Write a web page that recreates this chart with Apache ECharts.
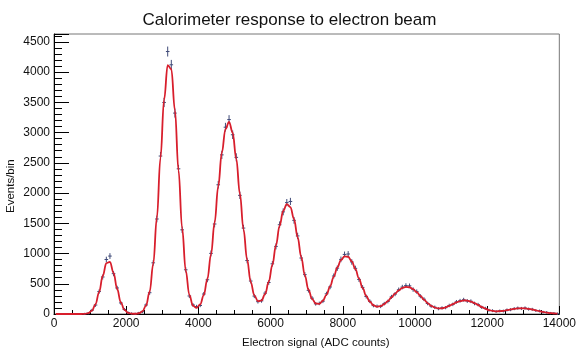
<!DOCTYPE html>
<html>
<head>
<meta charset="utf-8">
<script src="https://cdn.jsdelivr.net/npm/echarts/dist/echarts.min.js"></script>
<style>
  html, body { margin: 0; padding: 0; background: #fff; }
  #chart { width: 579px; height: 352px; }
</style>
</head>
<body>
<div id="chart"></div>
<script>
// bin centers (ADC counts), bin width 100
const binCenters = [
  50, 150, 250, 350, 450, 550, 650, 750, 850, 950,
  1050, 1150, 1250, 1350, 1450, 1550, 1650, 1750, 1850, 1950,
  2050, 2150, 2250, 2350, 2450, 2550, 2650, 2750, 2850, 2950,
  3050, 3150, 3250, 3350, 3450, 3550, 3650, 3750, 3850, 3950,
  4050, 4150, 4250, 4350, 4450, 4550, 4650, 4750, 4850, 4950,
  5050, 5150, 5250, 5350, 5450, 5550, 5650, 5750, 5850, 5950,
  6050, 6150, 6250, 6350, 6450, 6550, 6650, 6750, 6850, 6950,
  7050, 7150, 7250, 7350, 7450, 7550, 7650, 7750, 7850, 7950,
  8050, 8150, 8250, 8350, 8450, 8550, 8650, 8750, 8850, 8950,
  9050, 9150, 9250, 9350, 9450, 9550, 9650, 9750, 9850, 9950,
  10050, 10150, 10250, 10350, 10450, 10550, 10650, 10750, 10850, 10950,
  11050, 11150, 11250, 11350, 11450, 11550, 11650, 11750, 11850, 11950,
  12050, 12150, 12250, 12350, 12450, 12550, 12650, 12750, 12850, 12950,
  13050, 13150, 13250, 13350, 13450, 13550, 13650, 13750, 13850, 13950
]

// events per bin
const counts = [
  0, 0, 0, 0, 0, 0, 0, 0, 2, 12,
  61, 148, 371, 612, 901, 958, 667, 430, 183, 75,
  22, 8, 3, 15, 38, 149, 352, 846, 1571, 2612,
  3498, 4340, 4121, 3322, 2401, 1392, 731, 298, 151, 124,
  141, 330, 566, 1002, 1488, 2137, 2631, 3089, 3215, 2964,
  2590, 1962, 1421, 884, 545, 296, 204, 218, 345, 521,
  830, 1118, 1476, 1689, 1842, 1861, 1549, 1291, 926, 651,
  391, 262, 168, 175, 211, 334, 447, 628, 758, 903,
  985, 992, 861, 755, 571, 440, 289, 211, 139, 128,
  125, 171, 207, 283, 329, 401, 445, 470, 466, 404,
  370, 294, 245, 174, 129, 112, 88, 101, 105, 141,
  159, 201, 219, 236, 215, 211, 174, 155, 111, 93,
  61, 55, 41, 50, 49, 67, 71, 89, 97, 91,
  99, 81, 77, 57, 50, 31, 27, 14, 12, 5
]

// fitted curve
const fitValues = [
  0, 0, 0, 0, 0, 0, 0, 0, 3, 14,
  55, 160, 362, 628, 840, 862, 680, 413, 192, 69,
  19, 5, 4, 12, 44, 138, 368, 831, 1592, 2580,
  3543, 4115, 4048, 3369, 2374, 1418, 718, 316, 137, 100,
  160, 313, 581, 985, 1513, 2109, 2666, 3057, 3178, 2998,
  2564, 1989, 1400, 899, 532, 309, 212, 225, 333, 534,
  812, 1137, 1457, 1703, 1816, 1768, 1568, 1270, 941, 638,
  403, 250, 174, 168, 220, 321, 458, 615, 769, 890,
  954, 947, 870, 742, 585, 431, 299, 203, 145, 122,
  131, 164, 214, 275, 337, 392, 432, 449, 442, 411,
  361, 301, 238, 181, 136, 106, 93, 95, 110, 135,
  164, 193, 213, 224, 222, 206, 180, 149, 116, 88,
  65, 51, 45, 46, 53, 63, 75, 85, 92, 95,
  92, 85, 74, 60, 47, 34, 24, 16, 10, 6
]

const xTicks = [0, 2000, 4000, 6000, 8000, 10000, 12000, 14000]

const font = "'Liberation Sans', Arial, Helvetica, sans-serif"
const halfBin = 50

const chart = echarts.init(document.getElementById('chart'), null, { renderer: 'canvas' })

const pointData = binCenters.map((x, i) => [x, counts[i]])
const fitData = binCenters.map((x, i) => [x, fitValues[i]])

// no thousands separator, like ROOT
const plain = v => String(v)

const option = {
  animation: false,
  backgroundColor: '#fff',
  title: {
    text: 'Calorimeter response to electron beam',
    left: 'center',
    top: 7,
    textStyle: { fontFamily: font, fontSize: 17, fontWeight: 'normal', color: '#111' }
  },
  grid: {
    left: 54, right: 15, top: 34, bottom: 38,
    show: true, borderColor: '#777', borderWidth: 1
  },
  xAxis: {
    type: 'value',
    min: xTicks[0],
    max: xTicks[xTicks.length - 1],
    interval: 2000,
    axisLine: { onZero: false, lineStyle: { color: '#000', width: 1 } },
    axisTick: { inside: true, length: 8, lineStyle: { color: '#000' } },
    minorTick: { show: true, splitNumber: 4, length: 4, lineStyle: { color: '#000' } },
    splitLine: { show: false },
    axisLabel: { fontFamily: font, fontSize: 12, color: '#111', margin: 4, formatter: plain }
  },
  yAxis: {
    type: 'value',
    min: 0,
    max: 4630,
    interval: 500,
    axisLine: { show: true, lineStyle: { color: '#000', width: 1 } },
    axisTick: { inside: true, length: 15, lineStyle: { color: '#000' } },
    minorTick: { show: true, splitNumber: 5, length: 8, lineStyle: { color: '#000' } },
    splitLine: { show: false },
    axisLabel: { fontFamily: font, fontSize: 12, color: '#111', margin: 4, showMaxLabel: false, formatter: plain }
  },
  graphic: [
    {
      type: 'text', left: 242, top: 337,
      style: { text: 'Electron signal (ADC counts)', font: '11.5px ' + font, fill: '#111' }
    },
    {
      type: 'text', x: 5, y: 213, rotation: Math.PI / 2,
      style: { text: 'Events/bin', font: '11.5px ' + font, fill: '#111' }
    }
  ],
  series: [
    {
      // data points with poisson error bars
      type: 'custom',
      data: pointData,
      z: 2,
      renderItem: (params, api) => {
        const x = api.value(0)
        const y = api.value(1)
        if (!y) return
        const err = Math.sqrt(y)
        const left = api.coord([x - halfBin, y])
        const right = api.coord([x + halfBin, y])
        const top = api.coord([x, y + err])
        const bottom = api.coord([x, Math.max(0, y - err)])
        const st = { stroke: '#3f4a78', lineWidth: 1 }
        return {
          type: 'group',
          children: [
            { type: 'line', shape: { x1: left[0], y1: left[1], x2: right[0], y2: right[1] }, style: st },
            { type: 'line', shape: { x1: top[0], y1: top[1] - 1, x2: bottom[0], y2: bottom[1] + 1 }, style: st }
          ]
        }
      }
    },
    {
      // fit
      type: 'line',
      data: fitData,
      z: 3,
      smooth: 0.4,
      smoothMonotone: 'x',
      showSymbol: false,
      lineStyle: { color: '#d81e2c', width: 1.8 }
    }
  ]
}

chart.setOption(option)
</script>
</body>
</html>
